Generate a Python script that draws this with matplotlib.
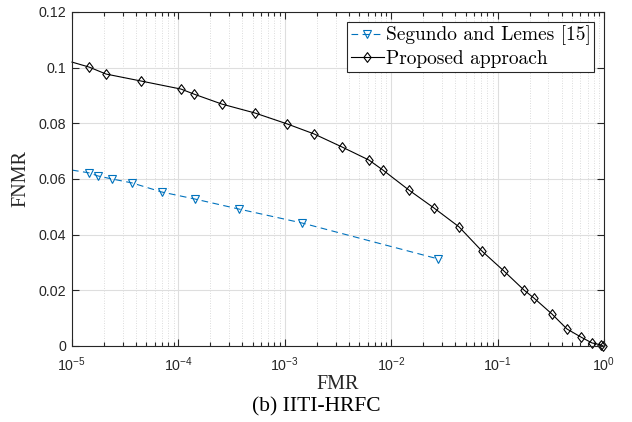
import numpy as np
import matplotlib
matplotlib.use("Agg")
from matplotlib import pyplot as plt
from matplotlib.path import Path
from matplotlib.ticker import LogLocator, LogFormatterSciNotation, NullFormatter

# FMR / FNMR
prop_fmr = [1.0e-5, 1.45e-5, 2.09e-5, 4.45e-5, 1.06e-4, 1.40e-4, 2.57e-4, 5.25e-4, 1.05e-3,
            1.88e-3, 3.45e-3, 6.18e-3, 8.37e-3, 1.47e-2, 2.52e-2, 4.34e-2, 7.13e-2, 0.115,
            0.177, 0.220, 0.324, 0.449, 0.608, 0.771, 0.937, 0.98]
prop_fnmr = [0.1020, 0.1002, 0.0977, 0.0952, 0.0923, 0.0905, 0.0869, 0.0837, 0.0798,
             0.0762, 0.0715, 0.0668, 0.0632, 0.0560, 0.0496, 0.0428, 0.0341, 0.0269,
             0.0201, 0.0172, 0.0115, 0.0061, 0.0032, 0.0011, 0.0004, 0.0]

seg_fmr = [1.0e-5, 1.45e-5, 1.75e-5, 2.38e-5, 3.66e-5, 7.02e-5, 1.43e-4, 3.71e-4, 1.45e-3, 2.75e-2]
seg_fnmr = [0.0632, 0.0622, 0.0611, 0.0600, 0.0586, 0.0553, 0.0528, 0.0492, 0.0442, 0.0313]

labels = ["Segundo and Lemes [15]", "Proposed approach"]

plt.rcParams['font.family'] = 'Liberation Sans'
plt.rcParams['mathtext.default'] = 'regular'

axc = '#262626'
blue = '#0072BD'
diamond = Path([(0, 1), (0.75, 0), (0, -1), (-0.75, 0), (0, 1)],
               [Path.MOVETO, Path.LINETO, Path.LINETO, Path.LINETO, Path.CLOSEPOLY])

fig = plt.figure(figsize=(6.32, 4.22), dpi=100)
ax = fig.add_axes([0.1139, 0.1801, 0.8418, 0.7915])

ax.plot(seg_fmr, seg_fnmr, color=blue, lw=0.8, ls='--', dashes=(6, 4), marker='v', ms=5.5,
        mfc='none', mec=blue, mew=0.8, markevery=list(range(1, len(seg_fmr))), label=labels[0])
ax.plot(prop_fmr, prop_fnmr, color='black', lw=0.8, marker=diamond, ms=7, mfc='none',
        mec='black', mew=0.8, markevery=list(range(1, len(prop_fmr))), label=labels[1],
        clip_on=False)

ax.set_xscale('log')
ax.set_xlim(1e-5, 1)
ax.set_ylim(0, 0.12)
ax.set_yticks(np.arange(0, 0.121, 0.02))
ax.set_yticklabels(['0', '0.02', '0.04', '0.06', '0.08', '0.1', '0.12'])
ax.xaxis.set_major_locator(LogLocator(base=10, numticks=10))
ax.xaxis.set_major_formatter(LogFormatterSciNotation())
ax.xaxis.set_minor_locator(LogLocator(base=10, subs=np.arange(2, 10), numticks=10))
ax.xaxis.set_minor_formatter(NullFormatter())

ax.grid(True, which='major', color='#dedede', lw=0.8, ls='-')
ax.grid(True, which='minor', axis='x', color='#d0d0d0', lw=0.6, ls=(0, (1, 2)))
ax.set_axisbelow(True)

for s in ax.spines.values():
    s.set_color(axc)
    s.set_linewidth(0.8)
ax.tick_params(which='both', direction='in', top=True, right=True, colors=axc,
               labelsize=10.3, width=0.8)
ax.tick_params(which='major', length=5, pad=4)
ax.tick_params(axis='x', which='major', pad=6.5)
ax.tick_params(which='minor', length=3)

ax.set_xlabel('FMR', family='Liberation Serif', fontsize=14.5, color=axc, labelpad=1)
ax.set_ylabel('FNMR', family='Liberation Serif', fontsize=14.5, color=axc, labelpad=6)

leg = ax.legend(loc='upper right', prop={'family': 'cmr10', 'size': 14}, fancybox=False,
                framealpha=1, edgecolor=axc, borderpad=0.2, handletextpad=0.1,
                handlelength=1.7, labelspacing=0.25, borderaxespad=0.5)
leg.get_frame().set_linewidth(0.8)

fig.text(0.5, 0.035, '(b) IITI-HRFC', family='Liberation Serif', fontsize=15.5,
         ha='center', va='center', color='black')

fig.savefig('out.png', dpi=100)
